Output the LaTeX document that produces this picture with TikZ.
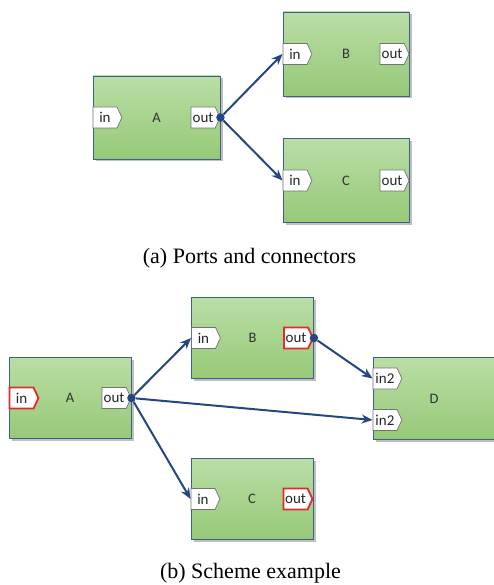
\documentclass[tikz,border=0pt]{standalone}
\usepackage{fontspec}
\setmainfont{Liberation Serif}
\newfontfamily\blockfont{Carlito}
\usetikzlibrary{positioning,shapes.symbols,shadows,arrows.meta}

\definecolor{blocktop}{RGB}{186,222,165}
\definecolor{blockbottom}{RGB}{150,201,120}
\definecolor{blockedge}{RGB}{62,96,140}
\definecolor{wireblue}{RGB}{36,70,130}
\definecolor{portred}{RGB}{232,40,40}

\begin{document}
\begin{tikzpicture}[x=1pt, y=-1pt,
    block/.style={draw=blockedge, line width=0.9pt, top color=blocktop, bottom color=blockbottom,
        minimum width=122pt, minimum height=81pt, font=\blockfont\fontsize{14.5}{16}\selectfont, text=black!80,
        drop shadow={shadow xshift=2.5pt, shadow yshift=-2.5pt, opacity=0.5}},
    port/.style={draw=black!55, line width=0.7pt, fill=white, signal, signal to=east,
        signal pointer angle=130, minimum width=29pt, minimum height=21pt, inner sep=1pt,
        font=\blockfont\fontsize{15}{16}\selectfont, text=black!85},
    portin/.style={port, anchor=west},
    portout/.style={port, anchor=east},
    marked/.style={draw=portred, line width=1.8pt},
    dot/.style={circle, fill=wireblue, inner sep=0pt, minimum size=8.5pt},
    link/.style={draw=wireblue, line width=2pt, -{Stealth[length=11pt, width=9pt]}},
    caption/.style={font=\fontsize{22}{25}\selectfont}]

    \useasboundingbox (0,0) rectangle (493,585);

    %% Ports and connectors
    % blocks
    \node[block, minimum width=127pt, minimum height=83pt] (a1) at (156.5,117.5) {A};
    \node[block, minimum width=126pt, minimum height=84pt] (b1) at (346,54) {B};
    \node[block, minimum width=126pt, minimum height=84pt] (c1) at (346,180.5) {C};

    % ports on the block edges
    \node[portin] (a1in) at (a1.west) {in};
    \node[portout] (a1out) at (a1.east) {out};
    \node[portin] (b1in) at (b1.west) {in};
    \node[portout] (b1out) at (b1.east) {out};
    \node[portin] (c1in) at (c1.west) {in};
    \node[portout] (c1out) at (c1.east) {out};

    % connectors from A
    \node[dot] (a1dot) at (a1out.east) {};
    \draw[link] (a1dot) -- (b1in.west);
    \draw[link] (a1dot) -- (c1in.west);

    \node[caption] (capa) at (249.5,258) {(a) Ports and connectors};

    %% Scheme example
    % blocks
    \node[block] (a2) at (70,398) {A};
    \node[block] (b2) at (252.5,338) {B};
    \node[block] (c2) at (252,499) {C};
    \node[block, minimum height=82pt] (d2) at (434,398.5) {D};

    % ports (red ones are the open ends of the scheme)
    \node[portin, marked] (a2in) at (a2.west) {in};
    \node[portout] (a2out) at (a2.east) {out};
    \node[portin] (b2in) at (b2.west) {in};
    \node[portout, marked] (b2out) at (b2.east) {out};
    \node[portin] (c2in) at (c2.west) {in};
    \node[portout, marked] (c2out) at (c2.east) {out};
    \node[portin] (d2inup) at ([yshift=20pt]d2.west) {in2};
    \node[portin] (d2indown) at ([yshift=-21.5pt]d2.west) {in2};

    % connectors
    \node[dot] (a2dot) at (a2out.east) {};
    \node[dot] (b2dot) at (b2out.east) {};
    \draw[link] (a2dot) -- (b2in.west);
    \draw[link] (a2dot) -- (c2in.west);
    \draw[link] (a2dot) -- (d2indown.west);
    \draw[link] (b2dot) -- (d2inup.west);

    \node[caption] (capb) at (250.5,573) {(b) Scheme example};

\end{tikzpicture}
\end{document}
